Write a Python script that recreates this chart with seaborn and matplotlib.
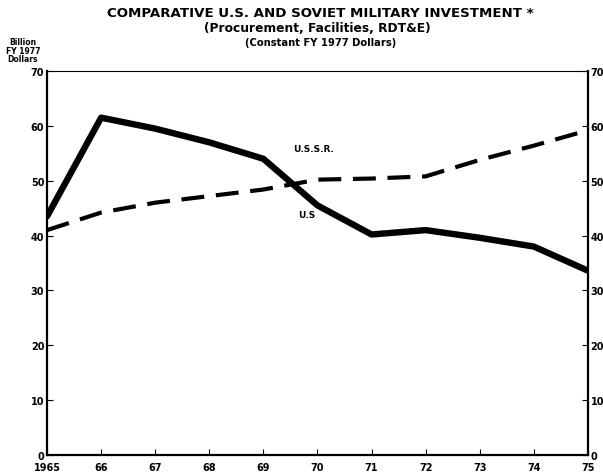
import matplotlib
matplotlib.use("Agg")
import matplotlib.pyplot as plt
import seaborn as sns
import pandas as pd

years = [1965, 1966, 1967, 1968, 1969, 1970, 1971, 1972, 1973, 1974, 1975]
us_values = [43.5, 61.5, 59.5, 57.0, 54.0, 45.5, 40.2, 41.0, 39.6, 38.0, 33.6]
ussr_values = [41.0, 44.2, 46.0, 47.2, 48.4, 50.2, 50.4, 50.8, 53.8, 56.4, 59.2]
x_tick_labels = ["1965", "66", "67", "68", "69", "70", "71", "72", "73", "74", "75"]
y_ticks = [0, 10, 20, 30, 40, 50, 60, 70]

df = pd.DataFrame({
    "year": years * 2,
    "value": us_values + ussr_values,
    "series": ["U.S"] * len(years) + ["U.S.S.R."] * len(years),
})

sns.set_theme(style="white")
plt.rcParams["font.family"] = ["DejaVu Sans"]
plt.rcParams["text.color"] = "black"

fig = plt.figure(figsize=(6.03, 4.77), dpi=100)
ax = fig.add_axes([0.078, 0.044, 0.897, 0.805])

sns.lineplot(data=df, x="year", y="value", hue="series", style="series",
             palette={"U.S": "black", "U.S.S.R.": "black"},
             dashes={"U.S": "", "U.S.S.R.": (5.5, 2.8)},
             size="series", sizes={"U.S": 4.6, "U.S.S.R.": 3.0},
             legend=False, ax=ax)

ax.set_xlim(1965, 1975)
ax.set_ylim(0, 70)
ax.set_xticks(years)
ax.set_xticklabels(x_tick_labels, fontsize=7, fontweight="bold")
ax.set_yticks(y_ticks)
ax.set_yticklabels([str(v) for v in y_ticks], fontsize=7, fontweight="bold")
ax.set_xlabel("")
ax.set_ylabel("")
ax.tick_params(axis="both", direction="in", length=4, width=0.8, color="black",
               labelcolor="black")
ax.tick_params(axis="y", left=True, right=True, labelright=True, pad=2)
ax.tick_params(axis="x", bottom=True, pad=5)
for s in ["left", "right", "bottom"]:
    ax.spines[s].set_color("black")
    ax.spines[s].set_linewidth(1.6)
ax.spines["top"].set_color("black")
ax.spines["top"].set_linewidth(0.8)
ax.grid(False)

ax.text(1969.55, 55.9, "U.S.S.R.", fontsize=6.5, fontweight="bold", ha="left",
        va="center", color="black")
ax.text(1969.65, 43.9, "U.S", fontsize=6.5, fontweight="bold", ha="left",
        va="center", color="black")

fig.text(0.532, 0.972, "COMPARATIVE U.S. AND SOVIET MILITARY INVESTMENT *",
         ha="center", va="center", fontsize=9.6, fontweight="bold", color="black")
fig.text(0.527, 0.941, "(Procurement, Facilities, RDT&E)",
         ha="center", va="center", fontsize=8.8, fontweight="bold", color="black")
fig.text(0.532, 0.909, "(Constant FY 1977 Dollars)",
         ha="center", va="center", fontsize=7.2, fontweight="bold", color="black")
fig.text(0.038, 0.893, "Billion\nFY 1977\nDollars", ha="center", va="center",
         fontsize=5.5, fontweight="bold", linespacing=0.95, color="black")

fig.savefig("out.png", dpi=100)
